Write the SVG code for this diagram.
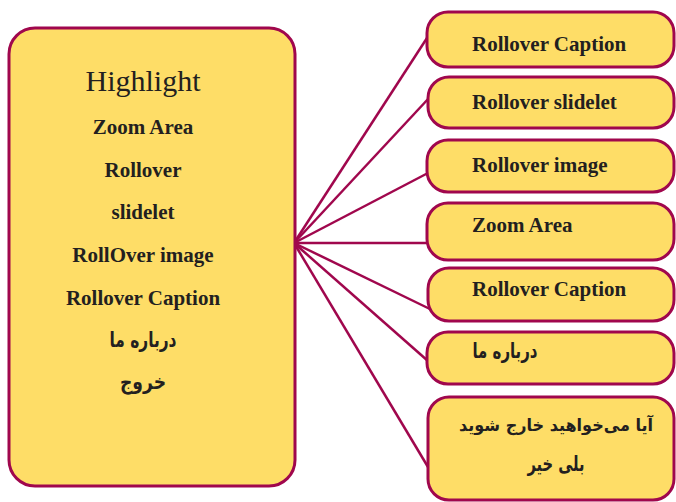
<svg xmlns="http://www.w3.org/2000/svg" width="676" height="502" viewBox="0 0 676 502">
<style>
.box{fill:#FEDD67;stroke:#A0074D;stroke-width:3}
.ln{stroke:#A0074D;stroke-width:2.5;fill:none}
.t{font-family:"Liberation Serif","DejaVu Serif",serif;font-weight:bold;font-size:21px;fill:#231F20}
.fa{font-family:"DejaVu Sans","Noto Sans",sans-serif;font-weight:bold;font-size:21px;fill:#231F20}
.fs{font-size:17px}
.h{font-family:"Liberation Serif",serif;font-size:30px;fill:#231F20}
</style>
<rect width="676" height="502" fill="#ffffff"/>
<g id="connectors">
<line class="ln" x1="294" y1="243" x2="427" y2="38"/>
<line class="ln" x1="294" y1="243" x2="429" y2="98"/>
<line class="ln" x1="294" y1="243" x2="428" y2="173"/>
<line class="ln" x1="294" y1="243" x2="428" y2="243"/>
<line class="ln" x1="294" y1="243" x2="432" y2="310"/>
<line class="ln" x1="294" y1="243" x2="428" y2="361"/>
<line class="ln" x1="294" y1="243" x2="428" y2="467"/>
</g>
<g id="main">
<rect class="box" x="9" y="28" width="286" height="458" rx="26"/>
<text class="h" x="143" y="91" text-anchor="middle">Highlight</text>
<text class="t" x="143" y="134" text-anchor="middle">Zoom Area</text>
<text class="t" x="143" y="177" text-anchor="middle">Rollover</text>
<text class="t" x="143" y="219" text-anchor="middle">slidelet</text>
<text class="t" x="143" y="262" text-anchor="middle">RollOver image</text>
<text class="t" x="143" y="305" text-anchor="middle">Rollover Caption</text>
<text class="fa" x="143" y="347" text-anchor="middle" textLength="67" lengthAdjust="spacingAndGlyphs">درباره ما</text>
<text class="fa" x="143" y="389" text-anchor="middle" textLength="46" lengthAdjust="spacingAndGlyphs">خروج</text>
</g>
<g id="n1">
<rect class="box" x="427" y="12" width="247" height="55" rx="21"/>
<text class="t" x="472" y="51">Rollover Caption</text>
</g>
<g id="n2">
<rect class="box" x="428" y="77" width="246" height="51" rx="21"/>
<text class="t" x="472" y="109">Rollover slidelet</text>
</g>
<g id="n3">
<rect class="box" x="427" y="140" width="247" height="52" rx="21"/>
<text class="t" x="472" y="172">Rollover image</text>
</g>
<g id="n4">
<rect class="box" x="427" y="203" width="247" height="57" rx="21"/>
<text class="t" x="472" y="232">Zoom Area</text>
</g>
<g id="n5">
<rect class="box" x="428" y="268" width="246" height="53" rx="21"/>
<text class="t" x="472" y="296">Rollover Caption</text>
</g>
<g id="n6">
<rect class="box" x="427" y="332" width="247" height="52" rx="21"/>
<text class="fa" x="505" y="358" text-anchor="middle" textLength="65" lengthAdjust="spacingAndGlyphs">درباره ما</text>
</g>
<g id="n7">
<rect class="box" x="428" y="397" width="246" height="103" rx="21"/>
<text class="fa fs" x="556" y="431" text-anchor="middle" textLength="194" lengthAdjust="spacingAndGlyphs">آیا می‌خواهید خارج شوید</text>
<text class="fa" x="556" y="471" text-anchor="middle" textLength="57" lengthAdjust="spacingAndGlyphs">بلی خیر</text>
</g>
</svg>
